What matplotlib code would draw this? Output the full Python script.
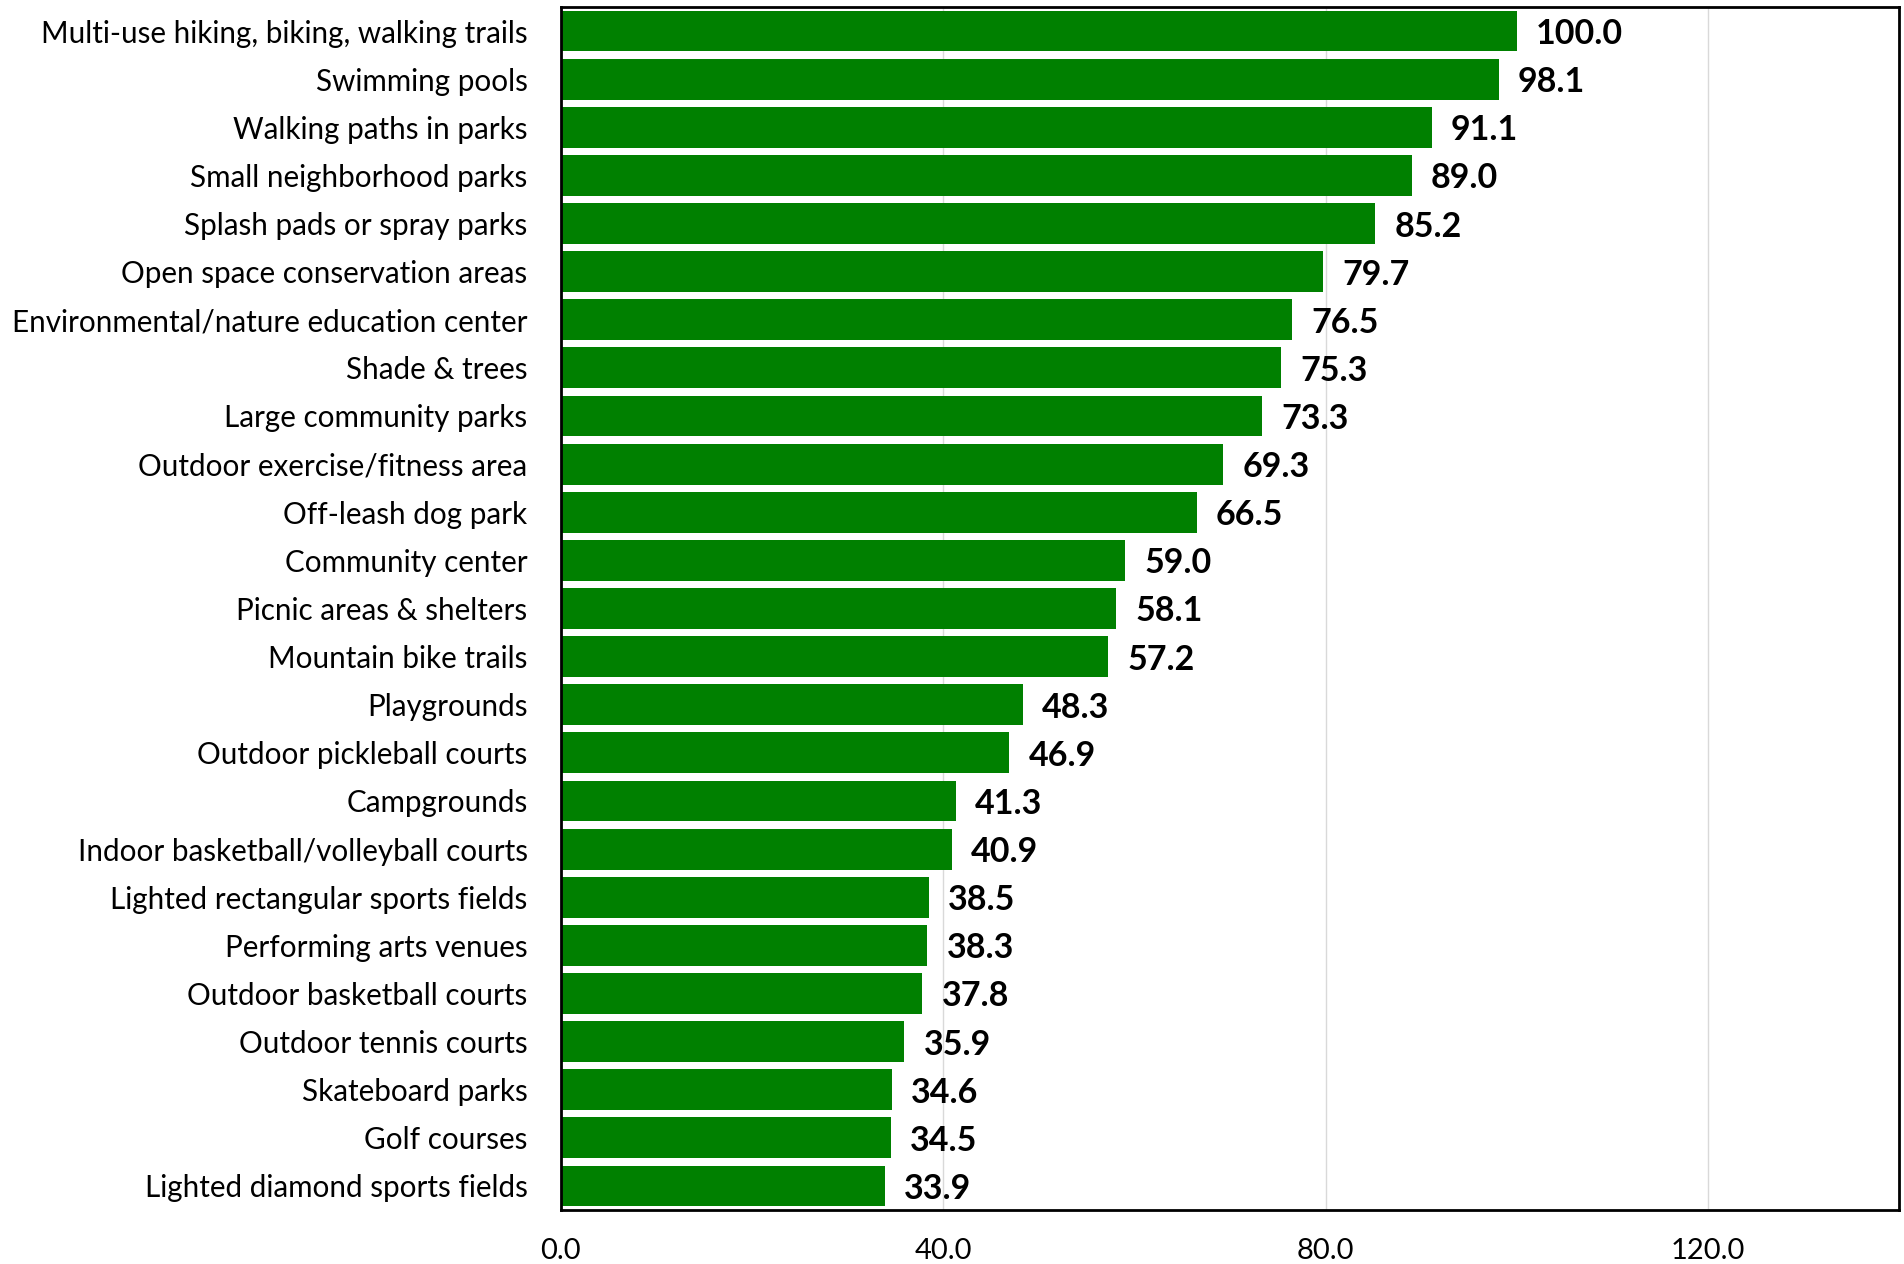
import matplotlib.pyplot as plt

# ==========================================
# Data
# ==========================================

categories = [
    "Multi-use hiking, biking, walking trails",
    "Swimming pools",
    "Walking paths in parks",
    "Small neighborhood parks",
    "Splash pads or spray parks",
    "Open space conservation areas",
    "Environmental/nature education center",
    "Shade & trees",
    "Large community parks",
    "Outdoor exercise/fitness area",
    "Off-leash dog park",
    "Community center",
    "Picnic areas & shelters",
    "Mountain bike trails",
    "Playgrounds",
    "Outdoor pickleball courts",
    "Campgrounds",
    "Indoor basketball/volleyball courts",
    "Lighted rectangular sports fields",
    "Performing arts venues",
    "Outdoor basketball courts",
    "Outdoor tennis courts",
    "Skateboard parks",
    "Golf courses",
    "Lighted diamond sports fields",
]

scores = [
    100.0, 98.1, 91.1, 89.0, 85.2, 79.7, 76.5, 75.3, 73.3, 69.3,
    66.5, 59.0, 58.1, 57.2, 48.3, 46.9, 41.3, 40.9, 38.5, 38.3,
    37.8, 35.9, 34.6, 34.5, 33.9,
]

x_ticks = [0, 40, 80, 120]

# ==========================================
# Plot
# ==========================================

plt.rcParams["font.family"] = ["Lato", "DejaVu Sans"]

fig = plt.figure(figsize=(19.04, 12.64), dpi=100)
ax = fig.add_axes([0.2946, 0.0427, 0.7028, 0.9518])

ypos = list(range(len(categories)))
ax.barh(ypos, scores, height=0.85, color="#008000", zorder=2)

for y, v in zip(ypos, scores):
    ax.annotate(
        f"{v:.1f}",
        xy=(v, y),
        xytext=(14, 0),
        textcoords="offset points",
        va="center_baseline",
        ha="left",
        fontsize=24.5,
        fontweight="bold",
        color="black",
    )

ax.set_yticks(ypos)
ax.set_yticklabels(categories, fontsize=21.3)
ax.set_ylim(len(categories) - 0.5, -0.5)

ax.set_xlim(0, 140)
ax.set_xticks(x_ticks)
ax.set_xticklabels([f"{t:.1f}" for t in x_ticks], fontsize=21)

ax.tick_params(axis="y", length=0, pad=24)
ax.tick_params(axis="x", length=0, pad=20)

ax.grid(axis="x", color="#d9d9d9", linewidth=1, zorder=0)
ax.set_axisbelow(True)

for s in ax.spines.values():
    s.set_color("black")
    s.set_linewidth(2)

fig.savefig("out.png", dpi=100)
